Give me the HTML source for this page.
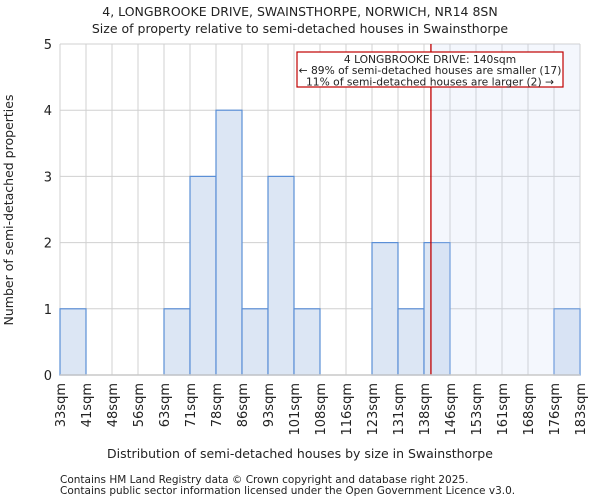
<!DOCTYPE html>
<html><head><meta charset="utf-8"><style>
body{margin:0;background:#fff;font-family:"DejaVu Sans","Liberation Sans",sans-serif}
svg text{font-family:"DejaVu Sans","Liberation Sans",sans-serif;fill:#222}
</style></head><body>
<svg id="chart" width="600" height="500" xmlns="http://www.w3.org/2000/svg">
<text x="300" y="16" text-anchor="middle" font-size="12.5">4, LONGBROOKE DRIVE, SWAINSTHORPE, NORWICH, NR14 8SN</text>
<text x="300" y="33" text-anchor="middle" font-size="12.5">Size of property relative to semi-detached houses in Swainsthorpe</text>
<g id="grid"></g><g id="bars"></g><g id="overlay"></g><g id="axes"></g>
<text x="300" y="458" text-anchor="middle" font-size="12.5">Distribution of semi-detached houses by size in Swainsthorpe</text>
<text transform="translate(13,210) rotate(-90)" text-anchor="middle" font-size="12.5">Number of semi-detached properties</text>
<text x="60" y="483" font-size="10.5" fill="#444">Contains HM Land Registry data © Crown copyright and database right 2025.</text>
<text x="60" y="494" font-size="10.5" fill="#444">Contains public sector information licensed under the Open Government Licence v3.0.</text>
</svg>
<script>
const categories=["33sqm","41sqm","48sqm","56sqm","63sqm","71sqm","78sqm","86sqm","93sqm","101sqm","108sqm","116sqm","123sqm","131sqm","138sqm","146sqm","153sqm","161sqm","168sqm","176sqm","183sqm"];
const counts=[1,0,0,0,1,3,4,1,3,1,0,0,2,1,2,0,0,0,0,1];
const yTicks=[0,1,2,3,4,5];
const binStart=33, binWidth=7.5, subjectSize=140;
const NS="http://www.w3.org/2000/svg";
const L=60,R=580,T=44,B=375,yMax=5;
const bw=(R-L)/counts.length;
const x=i=>L+i*bw;
const xv=v=>L+(v-binStart)/binWidth*bw;
const y=v=>B-(v/yMax)*(B-T);
function mk(p,tag,a){const e=document.createElementNS(NS,tag);for(const k in a)e.setAttribute(k,a[k]);document.getElementById(p).appendChild(e);return e;}
for(let i=0;i<=counts.length;i++){const e=mk('grid','line',{x1:x(i),x2:x(i),y1:T,y2:B,stroke:'#d0d0d0'});

}
yTicks.forEach(t=>{const e=mk('grid','line',{x1:L,x2:R,y1:y(t),y2:y(t),stroke:'#d0d0d0'});


const tx=mk('axes','text',{x:L-8,y:y(t)+5,'text-anchor':'end','font-size':13});tx.textContent=t;

});
counts.forEach((c,i)=>{if(!c)return;const r=mk('bars','rect',{x:x(i),y:y(c),width:bw,height:B-y(c),fill:'#dce6f4',stroke:'#5b8fd6','stroke-width':1.2});

});
const sx=xv(subjectSize);
const sh=mk('overlay','rect',{x:sx,y:T,width:R-sx,height:B-T,fill:'rgba(200,215,245,0.2)'});


const ln=mk('overlay','line',{x1:sx,x2:sx,y1:T,y2:B,stroke:'#c00000','stroke-width':1.3});


const bx=mk('overlay','rect',{x:297,y:52,width:266,height:35,fill:'#fff',stroke:'#c00000','stroke-width':1.2});


["4 LONGBROOKE DRIVE: 140sqm","← 89% of semi-detached houses are smaller (17)","11% of semi-detached houses are larger (2) →"].forEach((s,k)=>{const t=mk('overlay','text',{x:430,y:63+k*11.2,'text-anchor':'middle','font-size':10.7});t.textContent=s;

});
const ax=mk('axes','line',{x1:L,x2:R,y1:B,y2:B,stroke:'#c8c8c8','stroke-width':1.5});


categories.forEach((c,i)=>{const t=mk('axes','text',{transform:`translate(${x(i)+5},${B+8}) rotate(-90)`,'text-anchor':'end','font-size':13});t.textContent=c;

});
</script>
</body></html>
